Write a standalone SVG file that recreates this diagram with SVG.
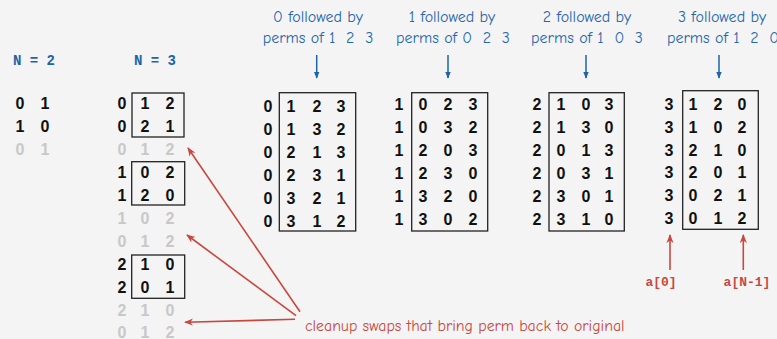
<svg xmlns="http://www.w3.org/2000/svg" width="777" height="339" viewBox="0 0 777 339">
<defs>
<style>
.d{font-family:"Liberation Sans",Arial,sans-serif;font-weight:bold;font-size:16px;fill:#111;text-anchor:middle}
.g{fill:#c8c8c8}
.hn{font-family:"Liberation Mono","Courier New",monospace;font-weight:bold;font-size:14px;fill:#1f64a8;white-space:pre}
.hd{font-family:"Comic Neue","Comic Sans MS","Open Sans",sans-serif;font-size:16px;fill:#2566ad;text-anchor:middle;white-space:pre}
.box{fill:none;stroke:#222;stroke-width:1.3}
.ba{stroke:#1f64a8;stroke-width:1.5;fill:none}
.ra{stroke:#c8483e;stroke-width:1.6;fill:none}
.rt{font-family:"Comic Neue","Comic Sans MS","Open Sans",sans-serif;font-size:15.8px;fill:#c8483e}
.rl{font-family:"Liberation Mono","Courier New",monospace;font-weight:bold;font-size:13px;fill:#c8483e;text-anchor:middle}
</style>
<marker id="bh" viewBox="0 0 10 10" refX="9" refY="5" markerWidth="7" markerHeight="7" markerUnits="userSpaceOnUse" orient="auto"><path d="M0,1 L10,5 L0,9 z" fill="#1f64a8"/></marker>
<marker id="rh" viewBox="0 0 10 10" refX="9" refY="5" markerWidth="9" markerHeight="9" markerUnits="userSpaceOnUse" orient="auto"><path d="M0,1 L10,5 L0,9 L3,5 z" fill="#c8483e"/></marker>
</defs>
<rect width="777" height="339" fill="#f4f4f4"/>

<g id="n2">
<text class="hn" x="13" y="65">N = 2</text>
<text class="d" x="20 45" y="109">01</text>
<text class="d" x="20 45" y="132">10</text>
<text class="d g" x="20 45" y="155">01</text>
</g>

<g id="n3">
<text class="hn" x="134" y="65">N = 3</text>
<rect class="box" x="132" y="93" width="52" height="44"/>
<rect class="box" x="131.7" y="161.7" width="53" height="43.3"/>
<rect class="box" x="131.7" y="255" width="53" height="43.3"/>
<text class="d" x="122 145 170" y="109">012</text>
<text class="d" x="122 145 170" y="132">021</text>
<text class="d g" x="122 145 170" y="155">012</text>
<text class="d" x="122 145 170" y="178">102</text>
<text class="d" x="122 145 170" y="201">120</text>
<text class="d g" x="122 145 170" y="224">102</text>
<text class="d g" x="122 145 170" y="247">012</text>
<text class="d" x="122 145 170" y="270">210</text>
<text class="d" x="122 145 170" y="292.5">201</text>
<text class="d g" x="122 145 170" y="315.5">210</text>
<text class="d g" x="122 145 170" y="338">012</text>
</g>

<g id="t0">
<text class="hd" x="318" y="22">0 followed by</text>
<text class="hd" x="318" y="43">perms of 1  2  3</text>
<rect class="box" x="279.3" y="92.7" width="76.4" height="138.3"/>
<text class="d" x="268 291 317 341" y="111.5">0123</text>
<text class="d" x="268 291 317 341" y="134.5">0132</text>
<text class="d" x="268 291 317 341" y="157.5">0213</text>
<text class="d" x="268 291 317 341" y="180.5">0231</text>
<text class="d" x="268 291 317 341" y="203.5">0321</text>
<text class="d" x="268 291 317 341" y="226.5">0312</text>
</g>

<g id="t1">
<text class="hd" x="452" y="22">1 followed by</text>
<text class="hd" x="453" y="43">perms of 0  2  3</text>
<rect class="box" x="411.7" y="92.7" width="76" height="138.3"/>
<text class="d" x="399 423 448 473" y="110">1023</text>
<text class="d" x="399 423 448 473" y="133">1032</text>
<text class="d" x="399 423 448 473" y="156">1203</text>
<text class="d" x="399 423 448 473" y="179">1230</text>
<text class="d" x="399 423 448 473" y="202">1320</text>
<text class="d" x="399 423 448 473" y="225">1302</text>
</g>

<g id="t2">
<text class="hd" x="587" y="22">2 followed by</text>
<text class="hd" x="587" y="43">perms of 1  0  3</text>
<rect class="box" x="549" y="92.7" width="75.3" height="138.3"/>
<text class="d" x="537 561 586 609" y="110">2103</text>
<text class="d" x="537 561 586 609" y="133">2130</text>
<text class="d" x="537 561 586 609" y="156">2013</text>
<text class="d" x="537 561 586 609" y="179">2031</text>
<text class="d" x="537 561 586 609" y="202">2301</text>
<text class="d" x="537 561 586 609" y="225">2310</text>
</g>

<g id="t3">
<text class="hd" x="722" y="22">3 followed by</text>
<text class="hd" x="723" y="43">perms of 1  2  0</text>
<rect class="box" x="682.7" y="90.7" width="75.6" height="138.6"/>
<text class="d" x="669 693 718 742" y="110">3120</text>
<text class="d" x="669 693 718 742" y="132.8">3102</text>
<text class="d" x="669 693 718 742" y="155.6">3210</text>
<text class="d" x="669 693 718 742" y="178.4">3201</text>
<text class="d" x="669 693 718 742" y="201.2">3021</text>
<text class="d" x="669 693 718 742" y="224">3012</text>
</g>

<g id="labels">
<text class="rt" x="305" y="331">cleanup swaps that bring perm back to original</text>
<text class="rl" x="661" y="286">a[0]</text>
<text class="rl" x="747" y="286">a[N-1]</text>
</g>

<g id="connectors">
<line class="ba" x1="316.7" y1="55" x2="316.7" y2="78" marker-end="url(#bh)"/>
<line class="ba" x1="448" y1="55" x2="448" y2="78" marker-end="url(#bh)"/>
<line class="ba" x1="586" y1="55" x2="586" y2="78" marker-end="url(#bh)"/>
<line class="ba" x1="719" y1="55" x2="719" y2="78" marker-end="url(#bh)"/>
<line class="ra" x1="300" y1="311.7" x2="188" y2="148" marker-end="url(#rh)"/>
<line class="ra" x1="296" y1="315.7" x2="187" y2="235" marker-end="url(#rh)"/>
<line class="ra" x1="295" y1="319.3" x2="185" y2="322.3" marker-end="url(#rh)"/>
<line class="ra" x1="670" y1="270" x2="670" y2="235" marker-end="url(#rh)"/>
<line class="ra" x1="743.3" y1="270" x2="743.3" y2="235" marker-end="url(#rh)"/>
</g>
</svg>
